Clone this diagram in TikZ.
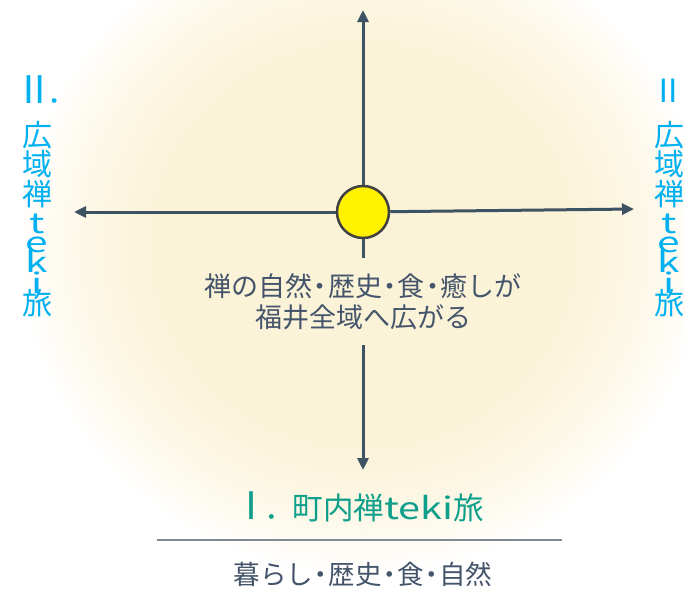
\documentclass[tikz,border=0pt]{standalone}
\usepackage{fontspec}
\setmainfont{Noto Sans CJK JP}
\newfontfamily\widelatin[FakeStretch=1.45]{Noto Sans CJK JP}
\newfontfamily\titlelatin[FakeStretch=1.3]{Noto Sans CJK JP}
\usetikzlibrary{arrows.meta}
\definecolor{cream}{HTML}{FBF3D8}
\definecolor{axiscol}{HTML}{3D5263}
\definecolor{slatecol}{HTML}{44546A}
\definecolor{titleteal}{HTML}{0E9F8A}
\definecolor{skyblue}{HTML}{00B0F0}
\definecolor{sunring}{HTML}{404040}
\definecolor{rulegray}{HTML}{7F8A93}
\pgfdeclareradialshading{glow}{\pgfpoint{0bp}{0bp}}{color(0bp)=(cream); color(15bp)=(cream); color(20.5bp)=(cream!62!white); color(25bp)=(white); color(50bp)=(white)}
\newcommand\hdot{\kern-0.21em・\kern-0.21em}
\newcommand\wl[1]{{\widelatin\fontsize{28}{0}\selectfont #1}}
\newcommand\vrow[1]{\hbox to 30pt{\hss\smash{#1}\hss}}
\newcommand\vstack{\vtop{\offinterlineskip
  \vrow{広}\vskip29.5pt\vrow{域}\vskip29.5pt\vrow{禅}\vskip28pt
  \vrow{\wl{t}}\vskip19pt\vrow{\wl{e}}\vskip20pt\vrow{\wl{k}}\vskip21pt
  \vrow{\wl{i}}\vskip21pt\vrow{旅}}}
\begin{document}
\begin{tikzpicture}[x=1pt,y=-1pt,
  axisline/.style={draw=axiscol, line width=3pt},
  axisarrow/.style={axisline, -{Triangle[length=12pt,width=11pt]}},
  sun/.style={circle, draw=sunring, line width=2.5pt, fill=yellow, minimum size=52pt, inner sep=0pt},
  vlabel/.style={inner sep=0pt, text=skyblue, font=\fontsize{30}{30}\selectfont},
  bodytext/.style={text=slatecol, inner sep=0pt}]
\useasboundingbox (0,0) rectangle (685,589);
\fill[white] (0,0) rectangle (685,589);
\begin{scope}
  \clip (0,0) rectangle (685,589);
  \shade[shading=glow] (363,245) ellipse[x radius=345, y radius=330];
\end{scope}
% axes
\node[sun] (c) at (363,212) {};
\coordinate (top) at (363,10);
\coordinate (bot) at (363,470);
\coordinate (lft) at (74,212);
\coordinate (rgt) at (634,209);
\coordinate (gapA) at (363,258);
\coordinate (gapB) at (363,345);
\draw[axisarrow] (c) -- (top);
\draw[axisarrow] (c) -- (lft);
\draw[axisarrow] (c) -- (rgt);
\draw[axisline] (c) -- (gapA);
\draw[axisarrow] (gapB) -- (bot);
% centre text
\node[bodytext, align=center, font=\fontsize{27}{31}\selectfont] (msg) at (363,302)
  {禅の自然\hdot 歴史\hdot 食\hdot 癒しが\\福井全域へ広がる};
% bottom
\node[inner sep=0pt, text=titleteal, font=\fontsize{30.5}{36}\selectfont, anchor=base] (title) at (358,519)
  {{\fontsize{38}{38}\selectfont Ⅰ}\kern-6pt．\kern-2pt町内禅{\titlelatin teki}旅};
\coordinate (rl) at (157,540);
\coordinate (rr) at (562,540);
\draw[rulegray, line width=2pt] (rl) -- (rr);
\node[bodytext, font=\fontsize{26.5}{30}\selectfont] (sub) at (363,574) {暮らし\hdot 歴史\hdot 食\hdot 自然};
% side labels
\node[vlabel, anchor=base west] (L0) at (15,103) {{\fontsize{38}{38}\selectfont Ⅱ}\kern-6pt．};
\node[vlabel, anchor=base east] (R0) at (685,102) {{\fontsize{32}{32}\selectfont Ⅱ}};
\node[vlabel, anchor=base] (L1) at (37,146) {\vstack};
\node[vlabel, anchor=base] (R1) at (669,146) {\vstack};
\end{tikzpicture}
\end{document}
